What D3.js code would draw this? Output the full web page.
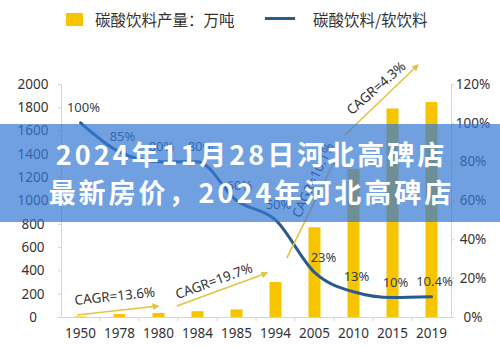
<!DOCTYPE html>
<html>
<head>
<meta charset="utf-8">
<script src="https://cdn.jsdelivr.net/npm/d3@7"></script>
<style>
  html, body { margin: 0; padding: 0; background: #fff; }
  svg { display: block; }
</style>
</head>
<body>
<svg id="chart" width="500" height="347"></svg>
<script>
// ---- data ----
const categories = ['1950','1978','1980','1984','1985','1994','2005','2010','2015','2019'];
const production = [5, 25, 35, 50, 65, 300, 770, 1270, 1790, 1845];   // 万吨
const ratio = [100, 85, 80, 80, 60, 50, 23, 13, 10, 10.4];             // %
const ratioLabels = ['100%','85%','80%','80%','60%','50%','23%','13%','10%','10.4%'];
const leftTicks = [0, 200, 400, 600, 800, 1000, 1200, 1400, 1600, 1800, 2000];
const rightTicks = [0, 20, 40, 60, 80, 100, 120];
const legendLabels = ['碳酸饮料产量：万吨', '碳酸饮料/软饮料'];
const cagrLabels = ['CAGR=13.6%', 'CAGR=19.7%', 'CAGR=10.1%', 'CAGR=4.3%'];
// arrows in data units: [category index (fractional), production value]
const cagrFrom = [[-0.09, 17], [2.47, 94], [5.29, 506], [6.78, 1562]];
const cagrTo   = [[1.99, 94], [4.78, 378], [6.53, 1348], [8.65, 2163]];
const cagrTextAt = [[0.88, 180], [3.42, 309], [5.96, 1176], [7.58, 1966]];
const cagrAngle = [-6, -20, -65, -41];
const bannerLines = ['2024年11月28日河北高碑店', '最新房价，2024年河北高碑店'];

(function () {
// ---- layout ----
const svg = d3.select('#chart');
const pLeft = 61, pRight = 451, pTop = 84, pBottom = 317;
const barColor = '#f6c500';
const lineColor = '#2b5b8c';
const axisColor = '#d4d4d4';
const arrowColor = '#e2c444';
const textColor = '#333';
const latin = "'Noto Sans', 'Open Sans', sans-serif";
const cjk = "'Noto Sans CJK SC', 'Noto Sans', sans-serif";

const x = d3.scaleBand().domain(categories).range([pLeft, pRight]).padding(0);
const bw = x.bandwidth();
const yL = d3.scaleLinear().domain([0, 2000]).range([pBottom, pTop]);
const yR = d3.scaleLinear().domain([0, 120]).range([pBottom, pTop]);
const xi = i => x(categories[0]) + bw / 2 + i * bw;

// defs
svg.append('defs').append('marker')
  .attr('id', 'arr').attr('viewBox', '0 0 10 10').attr('refX', 8).attr('refY', 5)
  .attr('markerWidth', 7).attr('markerHeight', 7).attr('markerUnits', 'userSpaceOnUse')
  .attr('orient', 'auto')
  .append('path').attr('d', 'M0,0 L10,5 L0,10 Z').attr('fill', arrowColor);

// legend
const lg = svg.append('g');
lg.append('rect').attr('x', 66).attr('y', 13).attr('width', 17).attr('height', 13).attr('fill', barColor);
lg.append('text').attr('x', 95).attr('y', 25.5).text(legendLabels[0])
  .attr('font-family', cjk).attr('font-size', 15.5).attr('fill', textColor);
lg.append('line').attr('x1', 265).attr('x2', 295).attr('y1', 18.5).attr('y2', 18.5)
  .attr('stroke', lineColor).attr('stroke-width', 3);
lg.append('text').attr('x', 313).attr('y', 25.5).text(legendLabels[1])
  .attr('font-family', cjk).attr('font-size', 15.5).attr('fill', textColor);

// left axis
const gL = svg.append('g').attr('transform', `translate(${pLeft},0)`)
  .call(d3.axisLeft(yL).tickValues(leftTicks).tickSize(3).tickSizeOuter(0).tickFormat(d => String(d)));
gL.select('.domain').attr('stroke', axisColor);
gL.selectAll('.tick line').attr('stroke', axisColor);
gL.selectAll('.tick text').attr('x', -28).attr('text-anchor', 'middle')
  .attr('font-family', latin).attr('font-size', 13.5).attr('fill', textColor);

// right axis
const gR = svg.append('g').attr('transform', `translate(${pRight},0)`)
  .call(d3.axisRight(yR).tickValues(rightTicks).tickSize(3).tickSizeOuter(0).tickFormat(d => d + '%'));
gR.select('.domain').attr('stroke', axisColor);
gR.selectAll('.tick line').attr('stroke', axisColor);
gR.selectAll('.tick text').attr('x', 22).attr('text-anchor', 'middle')
  .attr('font-family', latin).attr('font-size', 13.5).attr('fill', textColor);

// bottom axis
const gB = svg.append('g').attr('transform', `translate(0,${pBottom})`)
  .call(d3.axisBottom(x).tickSize(0).tickPadding(11));
gB.select('.domain').attr('stroke', axisColor);
gB.selectAll('.tick text').attr('font-family', latin).attr('font-size', 13.5).attr('fill', textColor);
gB.selectAll('.sep').data(categories.slice(1)).enter().append('line')
  .attr('x1', d => x(d)).attr('x2', d => x(d)).attr('y1', 0).attr('y2', 4)
  .attr('stroke', axisColor);

// bars
svg.append('g').selectAll('rect').data(production).enter().append('rect')
  .attr('x', (d, i) => x(categories[i]) + bw / 2 - 6)
  .attr('width', 12)
  .attr('y', d => yL(d))
  .attr('height', d => pBottom - yL(d))
  .attr('fill', barColor);

// ratio line
const line = d3.line()
  .x((d, i) => x(categories[i]) + bw / 2)
  .y(d => yR(d))
  .curve(d3.curveMonotoneX);
svg.append('path').datum(ratio).attr('d', line)
  .attr('fill', 'none').attr('stroke', lineColor).attr('stroke-width', 3)
  .attr('stroke-linecap', 'round');

// ratio labels
svg.append('g').selectAll('text').data(ratio).enter().append('text')
  .attr('x', (d, i) => x(categories[i]) + bw / 2 + (i === 6 ? 9 : 3))
  .attr('y', d => yR(d) - 10.5)
  .attr('text-anchor', 'middle')
  .attr('font-family', latin).attr('font-size', 13).attr('fill', '#2f3f4f')
  .text((d, i) => ratioLabels[i]);

// CAGR arrows
const ag = svg.append('g');
cagrLabels.forEach((lab, k) => {
  ag.append('line')
    .attr('x1', xi(cagrFrom[k][0])).attr('y1', yL(cagrFrom[k][1]))
    .attr('x2', xi(cagrTo[k][0])).attr('y2', yL(cagrTo[k][1]))
    .attr('stroke', arrowColor).attr('stroke-width', 1.6)
    .attr('marker-end', 'url(#arr)');
  const tx = xi(cagrTextAt[k][0]), ty = yL(cagrTextAt[k][1]);
  ag.append('text')
    .attr('transform', `translate(${tx},${ty}) rotate(${cagrAngle[k]})`)
    .attr('text-anchor', 'middle').attr('dy', '0.35em')
    .attr('font-family', latin).attr('font-size', 13.5).attr('fill', textColor)
    .text(lab);
});

// overlay banner
svg.append('rect').attr('x', 0).attr('y', 124).attr('width', 500).attr('height', 98)
  .attr('fill', '#3477d4').attr('fill-opacity', 0.7);
svg.append('g').selectAll('text').data(bannerLines).enter().append('text')
  .attr('x', 251.5).attr('y', (d, i) => 165 + i * 38)
  .attr('text-anchor', 'middle')
  .attr('font-family', cjk).attr('font-weight', 700).attr('font-size', 27)
  .attr('letter-spacing', 3).attr('fill', '#fff')
  .text(d => d);
})();
</script>
</body>
</html>
